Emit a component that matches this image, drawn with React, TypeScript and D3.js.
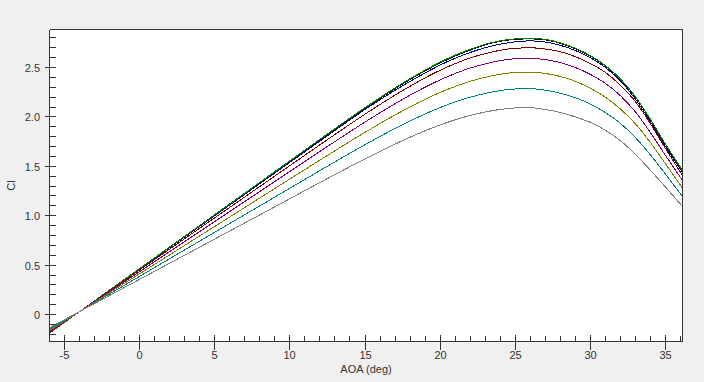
import React from "react";
import * as d3 from "d3";

const alpha = [-6, -4, 0, 4, 8, 12, 15, 17, 18, 19, 20, 21, 22, 23, 24, 25, 26, 27, 28, 29, 30, 31, 32, 33, 34, 35, 36.13];

const clBlack = [-0.186, 0.03, 0.463, 0.897, 1.332, 1.767, 2.087, 2.286, 2.379, 2.466, 2.546, 2.616, 2.676, 2.73, 2.765, 2.785, 2.79, 2.78, 2.745, 2.69, 2.615, 2.515, 2.38, 2.2, 1.97, 1.72, 1.455];
const clNavy = [-0.187, 0.03, 0.462, 0.893, 1.325, 1.756, 2.075, 2.27, 2.36, 2.445, 2.525, 2.594, 2.653, 2.7, 2.737, 2.76, 2.77, 2.758, 2.725, 2.672, 2.6, 2.5, 2.365, 2.18, 1.95, 1.7, 1.44];
const clGreen = [-0.188, 0.03, 0.466, 0.902, 1.338, 1.774, 2.094, 2.294, 2.387, 2.474, 2.555, 2.625, 2.685, 2.735, 2.77, 2.79, 2.795, 2.785, 2.75, 2.695, 2.62, 2.52, 2.385, 2.205, 1.975, 1.725, 1.46];
const clMaroon = [-0.181, 0.03, 0.452, 0.874, 1.296, 1.718, 2.028, 2.221, 2.311, 2.396, 2.472, 2.54, 2.597, 2.641, 2.675, 2.695, 2.7, 2.687, 2.66, 2.61, 2.54, 2.45, 2.32, 2.155, 1.93, 1.68, 1.408];
const clPurple = [-0.173, 0.03, 0.435, 0.84, 1.246, 1.651, 1.948, 2.134, 2.221, 2.301, 2.375, 2.44, 2.495, 2.537, 2.57, 2.589, 2.593, 2.58, 2.55, 2.5, 2.43, 2.34, 2.215, 2.05, 1.84, 1.61, 1.357];
const clOlive = [-0.162, 0.03, 0.413, 0.796, 1.18, 1.563, 1.844, 2.02, 2.102, 2.178, 2.248, 2.309, 2.361, 2.401, 2.432, 2.45, 2.454, 2.44, 2.41, 2.36, 2.29, 2.2, 2.08, 1.93, 1.74, 1.525, 1.28];
const clTeal = [-0.148, 0.03, 0.387, 0.744, 1.1, 1.457, 1.719, 1.883, 1.959, 2.03, 2.095, 2.152, 2.2, 2.238, 2.267, 2.283, 2.287, 2.27, 2.24, 2.195, 2.13, 2.045, 1.935, 1.79, 1.615, 1.42, 1.195];
const clGray = [-0.133, 0.03, 0.356, 0.683, 1.009, 1.336, 1.575, 1.725, 1.795, 1.86, 1.919, 1.971, 2.015, 2.05, 2.076, 2.091, 2.093, 2.075, 2.045, 2.0, 1.945, 1.865, 1.76, 1.62, 1.46, 1.29, 1.094];

const seriesNames = ["black", "navy", "green", "maroon", "purple", "olive", "teal", "gray"];
const seriesValues = [clBlack, clNavy, clGreen, clMaroon, clPurple, clOlive, clTeal, clGray];
const seriesColors = ["#000000", "#000080", "#008000", "#800000", "#800080", "#808000", "#008080", "#808080"];

const xMajorTicks = [-5, 0, 5, 10, 15, 20, 25, 30, 35];
const yMajorTicks = [0, 0.5, 1.0, 1.5, 2.0, 2.5];
const yTickLabels = ["0", "0.5", "1.0", "1.5", "2.0", "2.5"];
const xDomain = [-6, 36.13];
const yDomain = [-0.273, 2.885];

const W = 704, H = 382;
const L = 49.5, R = 682.5, T = 29.5, B = 341.5;
const axisColor = "#333333";
const font = "'Liberation Sans', Arial, sans-serif";

const px = (v: number) => Math.round(v - 0.5) + 0.5;

export default function App() {
  const x = d3.scaleLinear().domain(xDomain).range([L, R]);
  const y = d3.scaleLinear().domain(yDomain).range([B, T]);

  const xMinor = d3.range(-5, 37, 1).filter((v) => v <= xDomain[1] && !xMajorTicks.includes(v));
  const yMinor = d3.range(-2, 29, 1).map((v) => v / 10).filter((v) => !yMajorTicks.some((m) => Math.abs(m - v) < 1e-6));

  const line = d3
    .line<number>()
    .x((_, i) => x(alpha[i]))
    .y((d) => y(d))
    .curve(d3.curveMonotoneX);

  return (
    <svg width={W} height={H} style={{ position: "absolute", left: 0, top: 0, display: "block" }}>
      <rect x={0} y={0} width={W} height={H} fill="#f0f0f0" />
      <rect x={L} y={T} width={R - L} height={B - T} fill="#ffffff" />
      <defs>
        <clipPath id="plotclip">
          <rect x={L} y={T} width={R - L} height={B - T} />
        </clipPath>
      </defs>
      <g clipPath="url(#plotclip)">
        {seriesValues.map((vals, i) => (
          <path
            key={seriesNames[i]}
            d={line(vals) || ""}
            fill="none"
            stroke={seriesColors[i]}
            strokeWidth={1}
            shapeRendering="crispEdges"
          />
        ))}
      </g>
      <g stroke={axisColor} strokeWidth={1} shapeRendering="crispEdges">
        <line x1={L} y1={T} x2={R} y2={T} />
        <line x1={R} y1={T} x2={R} y2={B} />
        <line x1={L} y1={T} x2={L} y2={B} />
        <line x1={L} y1={B} x2={R} y2={B} />
        {xMinor.map((v) => (
          <line key={"xm" + v} x1={px(x(v))} x2={px(x(v))} y1={B - 6} y2={B} />
        ))}
        {xMajorTicks.map((v) => (
          <line key={"xM" + v} x1={px(x(v))} x2={px(x(v))} y1={B - 7} y2={B + 8} />
        ))}
        {yMinor.map((v) => (
          <line key={"ym" + v} x1={L} x2={L + 6} y1={px(y(v))} y2={px(y(v))} />
        ))}
        {yMajorTicks.map((v) => (
          <line key={"yM" + v} x1={L - 5} x2={L + 6} y1={px(y(v))} y2={px(y(v))} />
        ))}
      </g>
      <g fontFamily={font} fontSize={11} fill="#333333">
        {xMajorTicks.map((v) => (
          <text key={"xl" + v} x={px(x(v))} y={359} textAnchor="middle">
            {String(v)}
          </text>
        ))}
        {yMajorTicks.map((v, i) => (
          <text key={"yl" + v} x={40} y={px(y(v)) + 4} textAnchor="end">
            {yTickLabels[i]}
          </text>
        ))}
        <text x={(L + R) / 2} y={373} textAnchor="middle">
          AOA (deg)
        </text>
        <text transform={`translate(15,${(T + B) / 2}) rotate(-90)`} textAnchor="middle">
          Cl
        </text>
      </g>
    </svg>
  );
}
